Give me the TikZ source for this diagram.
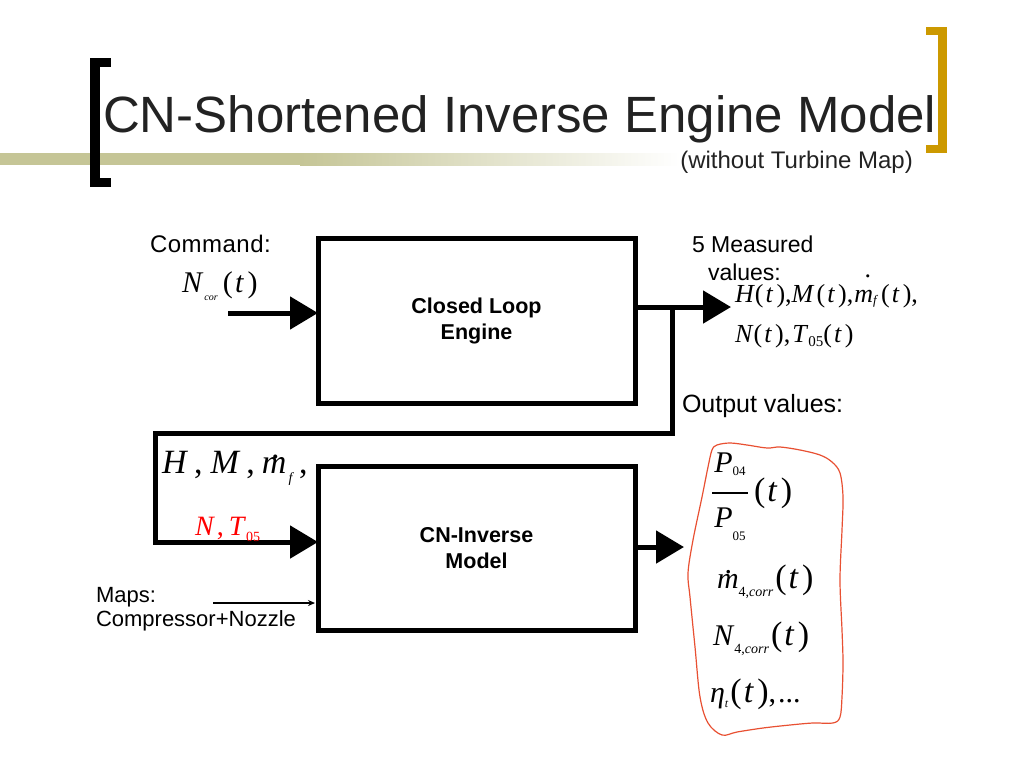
\documentclass[tikz,border=0pt]{standalone}
\usepackage{fontspec}
\setmainfont{Liberation Serif}
\setsansfont{Liberation Sans}
\usetikzlibrary{arrows.meta}
\definecolor{olivebar}{RGB}{197,197,150}
\definecolor{goldb}{RGB}{204,153,0}
\definecolor{redline}{RGB}{232,80,50}
\definecolor{titlec}{RGB}{34,34,34}
\newcommand\fsz[1]{\fontsize{#1}{#1}\selectfont}
\newcommand\sbx[3]{\raisebox{#1}{\fsz{#2}#3}}
\newcommand\dotm[2]{\rlap{\hspace{#1}\raisebox{#2}{.}}\textit{m}}
\newcommand\tpar{(\kern0.08em\textit{t}\kern0.12em)}
\newcommand\tparw{{\fsz{34}(\kern0.06em\textit{t}\kern0.1em)}}
\newcommand\stk[3]{\makebox[0pt][l]{\makebox[#3][c]{\raisebox{29pt}{#1}}}\makebox[0pt][l]{\raisebox{7.3pt}{\rule{#3}{1.4pt}}}\makebox[#3][c]{\raisebox{-26pt}{#2}}}
\tikzset{
  lbl/.style={anchor=base west, inner sep=0pt, outer sep=0pt},
  blk/.style={draw, line width=5pt, minimum width=317pt, minimum height=165pt, inner sep=0pt, outer sep=0pt, align=center, font=\sffamily\bfseries\fontsize{21.5}{26}\selectfont},
  thk/.style={line width=5pt},
  bigtip/.style={-{Triangle[length=28pt,width=32pt]}},
}
\begin{document}
\begin{tikzpicture}[x=1pt,y=-1pt]
\useasboundingbox (0,0) rectangle (1024,768);
% title decoration
\fill[olivebar] (0,153) rectangle (300,165);
\shade[left color=olivebar, right color=white] (300,153) rectangle (680,165);
\fill[black] (90,58) rectangle (111,67);
\fill[black] (90,58) rectangle (100,187);
\fill[black] (90,178) rectangle (111,187);
\fill[goldb] (926,27) rectangle (947,35);
\fill[goldb] (938,27) rectangle (947,153);
\fill[goldb] (926,145) rectangle (947,153);
\node[lbl, font=\sffamily\fsz{51}, text=titlec] (title) at (103,132) {CN-Shortened Inverse Engine Model};
\node[anchor=base east, inner sep=0pt, font=\sffamily\fsz{24}, text=titlec] (subtitle) at (913,168) {(without Turbine Map)};
% blocks
\node[blk] (cle) at (476.5,320.5) {Closed Loop\\Engine};
\node[blk, minimum height=164pt] (inv) at (476.5,548) {CN-Inverse\\Model};
% connectors
\coordinate (cmd) at (228,313);
\draw[thk,bigtip] (cmd) -- (cmd -| cle.west);
\coordinate (meas) at (731,307);
\draw[thk,bigtip] (cle.east |- meas) -- (meas);
\coordinate (j) at (672,307);
\coordinate (fb1) at (672,433);
\coordinate (fb2) at (155,433);
\coordinate (fb3) at (155,542);
\draw[thk,bigtip] (j) -- (fb1) -- (fb2) -- (fb3) -- (fb3 -| inv.west);
\coordinate (res) at (684,547);
\draw[thk,bigtip] (inv.east |- res) -- (res);
\coordinate (mp) at (213,603);
\draw[line width=1.5pt, -{Stealth[length=7pt,width=6pt]}, shorten >=3pt] (mp) -- (mp -| inv.west);
% labels
\node[lbl, font=\sffamily\fsz{24}] (cmdt) at (150,252) {C\kern0.5pt o\kern0.5pt m\kern0.5pt m\kern0.5pt a\kern0.5pt n\kern0.5pt d\kern0.5pt:};
\node[lbl, font=\fsz{30}] (ncor) at (182,292) {\textit{N}\kern1pt\sbx{-8pt}{10}{\textit{cor}}\kern5pt\tpar};
\node[lbl, font=\sffamily\fsz{23}] (meas1) at (692,252) {5 Measured};
\node[lbl, font=\sffamily\fsz{23}] (meas2) at (708,280) {values:};
\node[lbl, font=\fsz{26}] (meas3) at (735,302) {\textit{H}\tpar,\textit{M}\kern2pt\tpar,\kern1pt\dotm{0.4em}{0.95em}\sbx{-2pt}{13}{\textit{f}}\kern3pt\tpar,};
\node[lbl, font=\fsz{26}] (meas4) at (735,342) {\textit{N}\tpar,\kern2pt\textit{T}\sbx{-4pt}{15}{05}\tpar};
\node[lbl, font=\sffamily\fsz{25}] (outv) at (682,412) {Output values:};
\node[lbl, font=\fsz{34}] (fbk) at (162,473) {\textit{H}\kern6pt,\kern8pt\textit{M}\kern6pt,\kern7pt\dotm{0.27em}{0.42em}\kern2pt\sbx{-9pt}{14}{\textit{f}}\kern5pt,};
\node[lbl, font=\fsz{28}, text=red] (fbr) at (195,535) {\textit{N}\kern2pt,\kern5pt\textit{T}\sbx{-6pt}{14}{05}};
\node[lbl, font=\sffamily\fsz{22}] (maps1) at (96,602) {Maps:};
\node[lbl, font=\sffamily\fsz{22}] (maps2) at (96,626) {Compressor+Nozzle};
% output values
\draw[redline, line width=1.2pt] plot[smooth cycle, tension=0.55] coordinates {(712,450) (717,445) (730,443) (747,445) (767,448) (780,447) (800,450) (820,455) (832,462) (840,473) (843,497) (842,530) (840,580) (842,630) (843,663) (842,697) (840,717) (833,723) (813,723) (790,725) (763,728) (737,732) (722,735) (708,723) (700,697) (695,647) (690,597) (688,573) (693,540) (702,497) (708,467)};
\node[lbl, font=\fsz{30}] (o1) at (712,501) {\stk{\textit{P}\sbx{-3pt}{13}{04}}{\textit{P}\sbx{-13pt}{13}{05}}{36pt}\kern6pt\tparw};
\node[lbl, font=\fsz{30}] (o2) at (717,588) {\dotm{0.25em}{0.5em}\sbx{-8pt}{14}{4,\textit{corr}}\kern2pt\tparw};
\node[lbl, font=\fsz{30}] (o3) at (713,645) {\textit{N}\sbx{-8pt}{14}{4,\textit{corr}}\kern2pt\tparw};
\node[lbl, font=\fsz{30}] (o4) at (710,702) {\textit{η}\sbx{-5pt}{12}{\textit{t}}\kern2pt\tparw,\kern2pt...};
\end{tikzpicture}
\end{document}
